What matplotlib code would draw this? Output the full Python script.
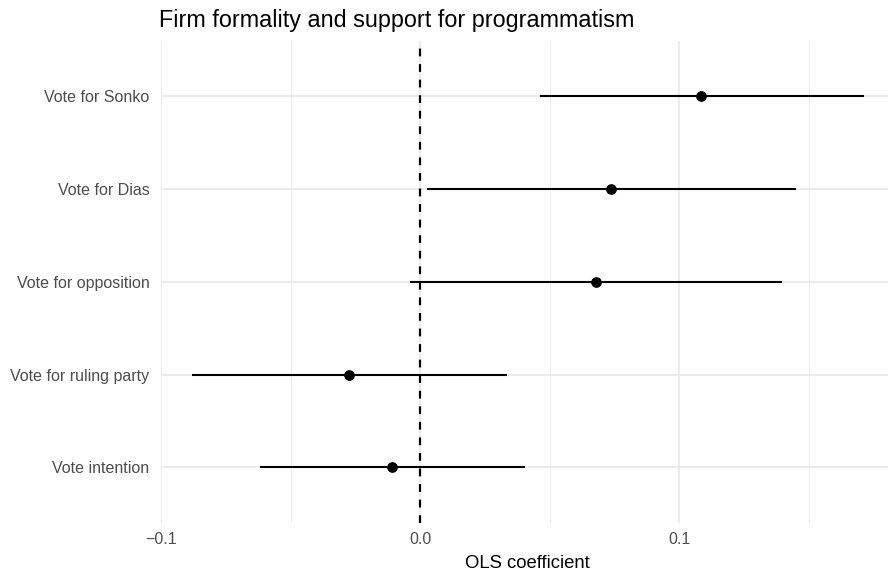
import numpy as np
import matplotlib
matplotlib.use("Agg")
import matplotlib.pyplot as plt
from matplotlib.ticker import MultipleLocator

# coefficient estimates
outcomes = ["Vote intention", "Vote for ruling party", "Vote for opposition",
            "Vote for Dias", "Vote for Sonko"]
estimate = [-0.0108, -0.0274, 0.0678, 0.0736, 0.1086]
ci_low = [-0.0619, -0.0880, -0.0039, 0.0027, 0.0465]
ci_high = [0.0407, 0.0335, 0.1398, 0.1451, 0.1713]

plt.rcParams['font.family'] = ['Liberation Sans', 'DejaVu Sans']

W, H = 888, 571
fig = plt.figure(figsize=(W / 100, H / 100), dpi=100)

# panel box in pixels (left, top, right, bottom)
pl, pt, pr, pb = 161, 40.7, 893, 523
ax = fig.add_axes([pl / W, 1 - pb / H, (pr - pl) / W, (pb - pt) / H])

grid_col = "#EBEBEB"
ypos = np.arange(len(outcomes))

ax.set_xlim(-0.1, 0.1826)
ax.set_ylim(-0.6, len(outcomes) - 1 + 0.6)

ax.xaxis.set_major_locator(MultipleLocator(0.1))
ax.xaxis.set_minor_locator(MultipleLocator(0.05))
ax.grid(which="major", axis="both", color=grid_col, linewidth=1.4, zorder=0)
ax.grid(which="minor", axis="x", color=grid_col, linewidth=0.7, zorder=0)
ax.set_axisbelow(True)

ax.axvline(0, color="black", linewidth=1.6, dashes=(3.5, 3.5), zorder=2)

ax.hlines(ypos, ci_low, ci_high, color="black", linewidth=1.5, zorder=3)
ax.plot(estimate, ypos, "o", color="black", markersize=6.7, zorder=4)

ax.set_yticks(ypos)
ax.set_yticklabels(outcomes)
ax.set_xticks([-0.1, 0.0, 0.1])
ax.set_xticklabels(["\u22120.1", "0.0", "0.1"])

ax.tick_params(axis="both", which="both", length=0, labelsize=11.5,
               labelcolor="#4D4D4D")
ax.tick_params(axis="x", pad=6.5)
ax.tick_params(axis="y", pad=8.3)

for s in ax.spines.values():
    s.set_visible(False)

ax.set_xlabel("OLS coefficient", fontsize=13.3, color="black")
ax.xaxis.label.set_va("baseline")
ax.xaxis.set_label_coords(0.5, (pb - 568) / (pb - pt))

fig.text(pl / W - 0.002, 1 - 27 / H, "Firm formality and support for programmatism",
         fontsize=16.8, color="black", ha="left", va="baseline")

fig.savefig("out.png", dpi=100, facecolor="white")
